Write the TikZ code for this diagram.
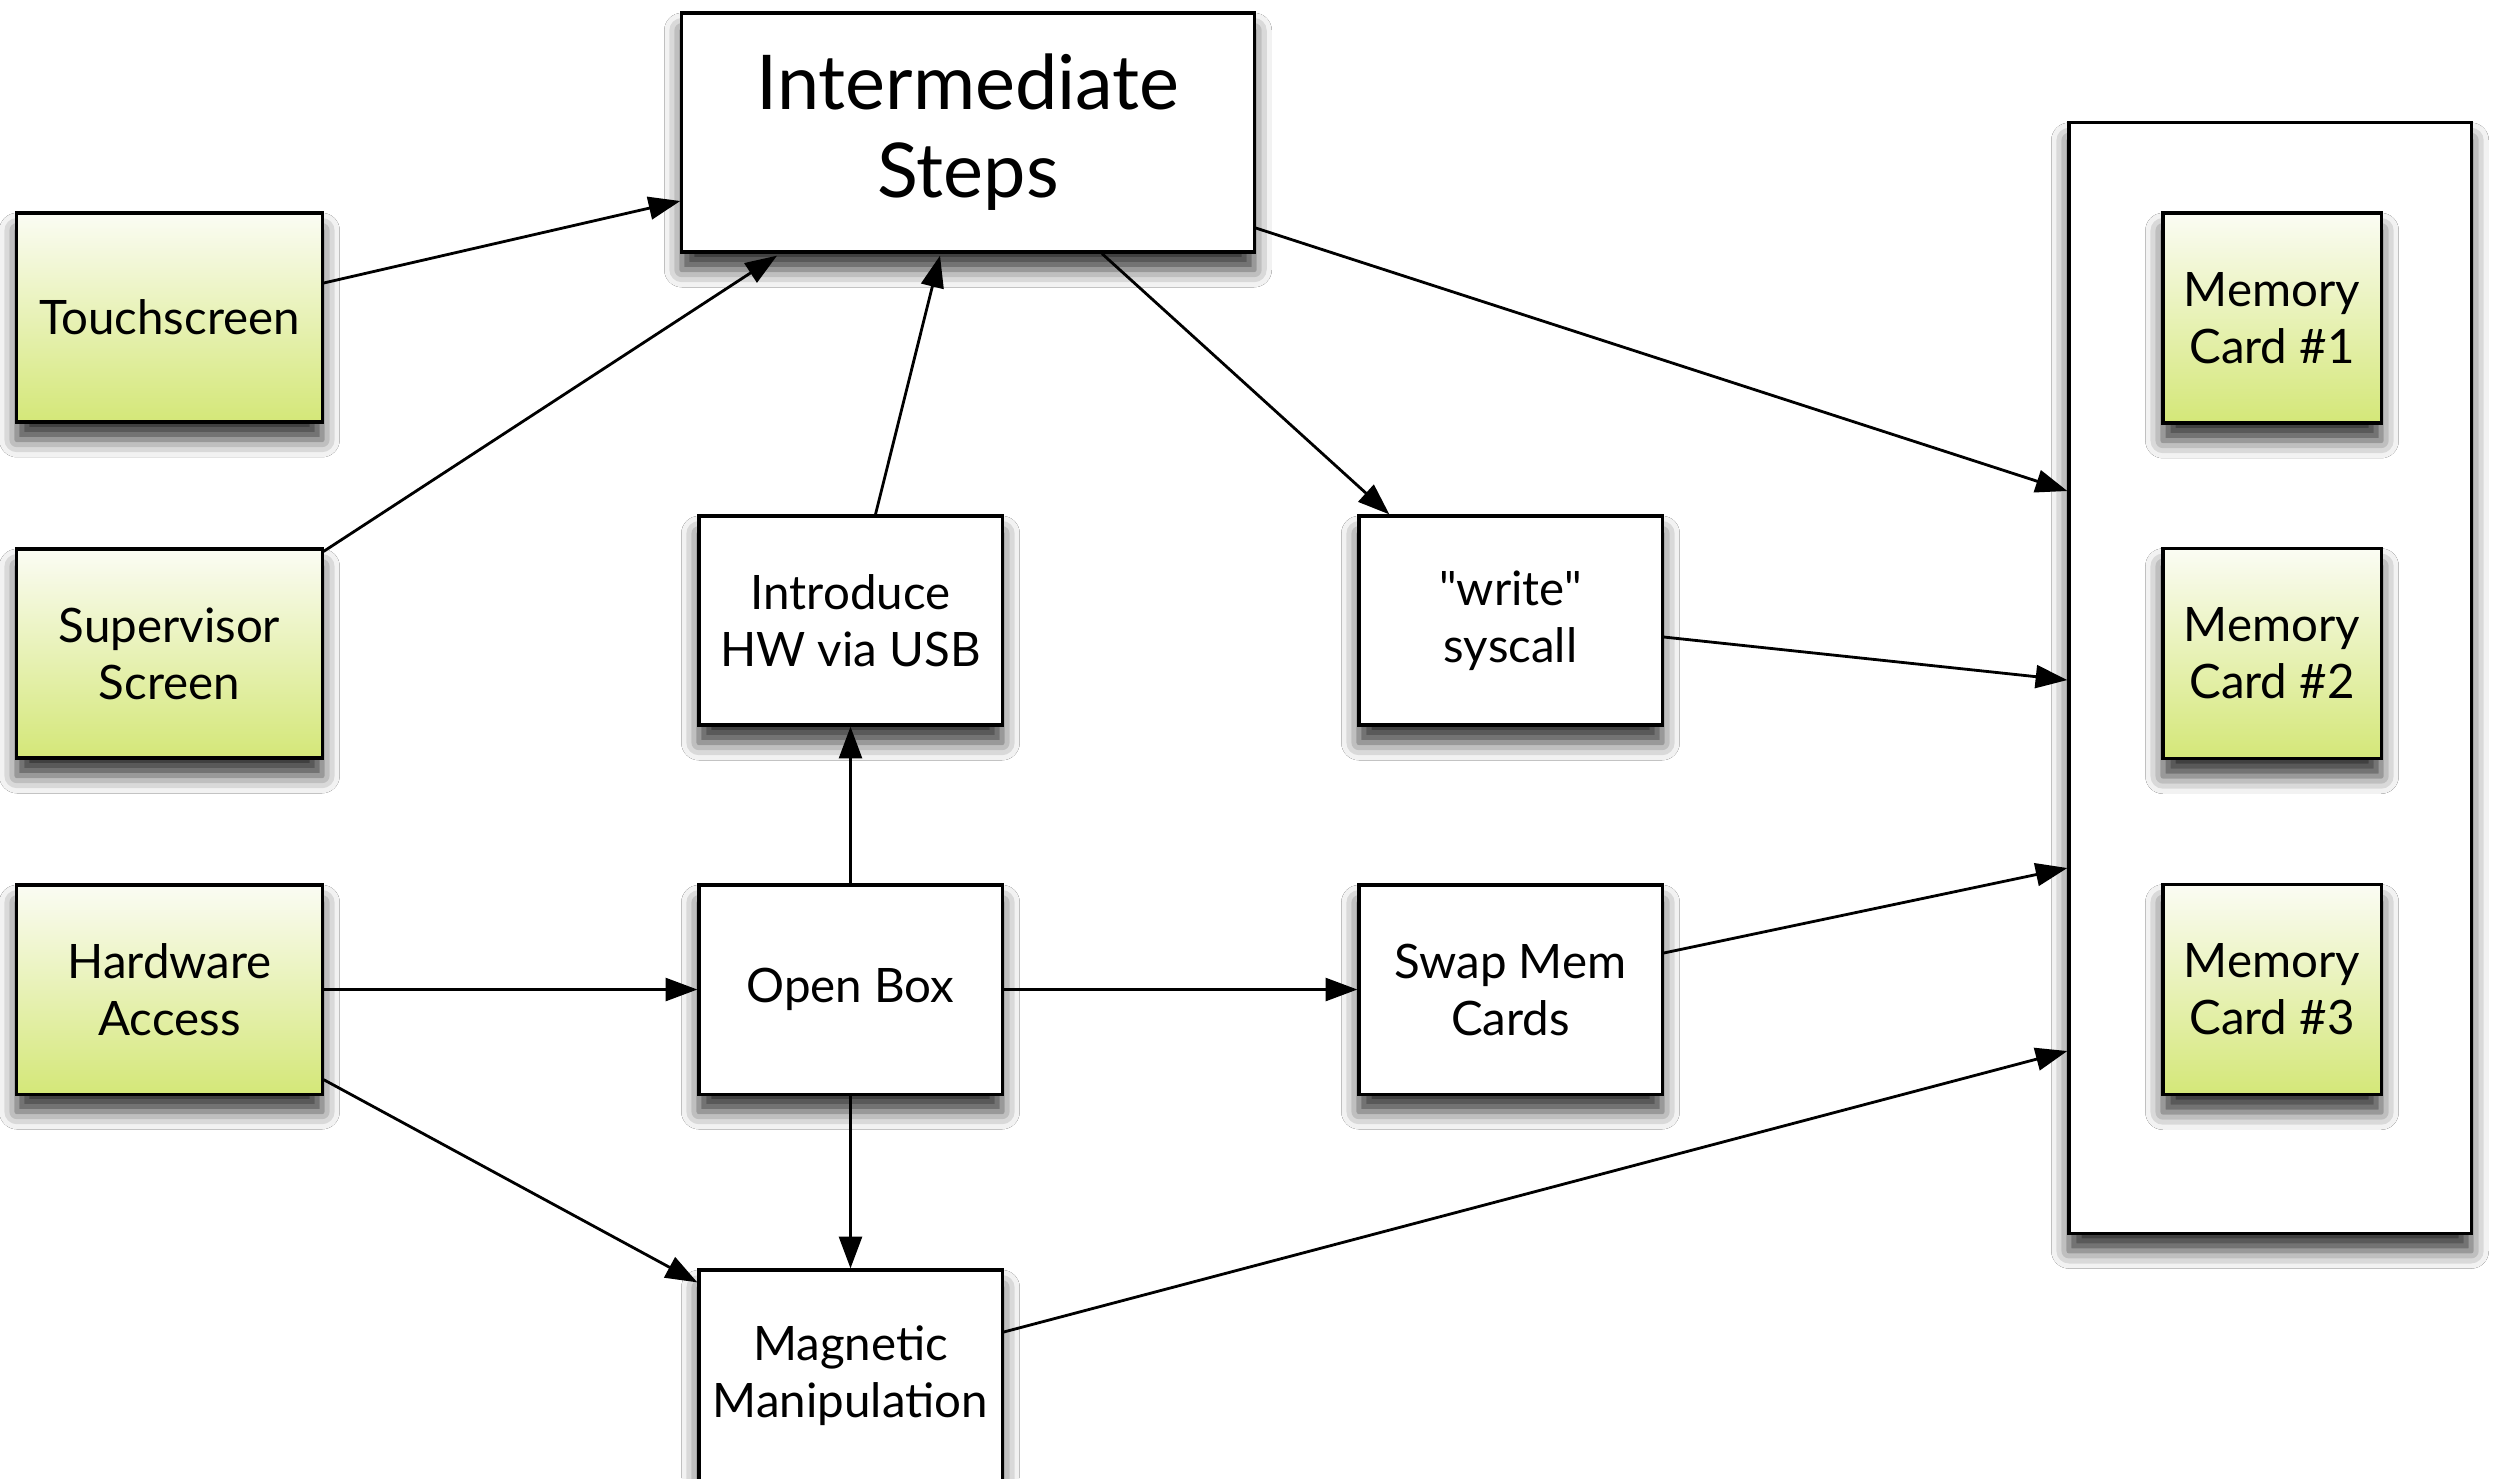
\documentclass[tikz,border=0pt]{standalone}
\usepackage{fontspec}
\setmainfont{Lato}
% same face without TeX ligature mapping, so that " stays a straight quote
\newfontfamily\latoplain{Lato}
\usetikzlibrary{arrows.meta,calc,shadows.blur}

\definecolor{cardtop}{HTML}{FBFCF4}
\definecolor{cardbottom}{HTML}{D4E778}

\tikzset{
  box/.style={draw=black, line width=0.9pt, fill=white, align=center,
    inner sep=0pt, font=\fontsize{13.5}{16.2}\selectfont,
    blur shadow={shadow xshift=0pt, shadow yshift=-5pt,
                 shadow blur radius=5pt, shadow opacity=80}},
  greenbox/.style={box, top color=cardtop, bottom color=cardbottom},
  source/.style={greenbox, minimum width=3.05cm, minimum height=2.09cm},
  stepbox/.style={box, minimum width=3.03cm, minimum height=2.09cm},
  card/.style={greenbox, minimum width=2.18cm, minimum height=2.10cm},
  link/.style={line width=0.8pt, -{Triangle[length=9pt,width=6.5pt]}},
}

\begin{document}
\begin{tikzpicture}[x=0.01cm, y=-0.01cm]
  \useasboundingbox (0,0) rectangle (2498,1478);
  \clip (0,0) rectangle (2498,1478);
  \fill[white] (0,0) rectangle (2498,1478);

  % sources on the left
  \node[source] (ts) at (169.5,317.5) {Touchscreen};
  \node[source] (ss) at (169.5,653.5) {Supervisor\\Screen};
  \node[source] (hw) at (169.5,989.5) {Hardware\\Access};

  % central steps
  \node[box, minimum width=5.72cm, minimum height=2.39cm,
        font=\fontsize{21.5}{25}\selectfont] (is) at (968,132.5) {Intermediate\\Steps};
  \node[stepbox] (intro) at (850.5,620.5) {Introduce\\HW via USB};
  \node[stepbox] (ob) at (850.5,989.5) {Open Box};
  \node[stepbox, minimum height=2.12cm] (mm) at (850.5,1376) {Magnetic\\Manipulation};
  \node[stepbox] (wr) at (1510.5,620.5) {{\latoplain "write"}\\syscall};
  \node[stepbox] (sw) at (1510.5,989.5) {Swap Mem\\Cards};

  % memory card holder
  \node[box, minimum width=4.02cm, minimum height=11.10cm] (cont) at (2270,678) {};
  \node[card] (m1) at (2272,318) {Memory\\Card \#1};
  \node[card] (m2) at (2272,653.5) {Memory\\Card \#2};
  \node[card] (m3) at (2272,989.5) {Memory\\Card \#3};

  % connectors
  \draw[link] ($(ts.east)+(0,-34.5)$) -- ($(is.west)+(0,68.5)$);
  \draw[link] ($(ss.north east)+(0,4)$) -- ($(is.south)+(-191,2)$);
  \draw[link] ($(intro.north)+(25,0)$) -- ($(is.south)+(-28,2)$);
  \draw[link] ($(is.south)+(134,0)$) -- ($(wr.north west)+(32,0)$);
  \draw[link] ($(is.east)+(0,95.5)$) -- ($(cont.west)+(0,-187)$);
  \draw[link] ($(wr.east)+(0,16.5)$) -- ($(cont.west)+(0,2)$);
  \draw[link] ($(sw.east)+(0,-36.5)$) -- ($(cont.west)+(0,190)$);
  \draw[link] ($(mm.east)+(0,-44)$) -- ($(cont.west)+(0,373)$);
  \draw[link] (hw.east) -- (ob.west);
  \draw[link] (ob.east) -- (sw.west);
  \draw[link] (ob.north) -- (intro.south);
  \draw[link] (ob.south) -- (mm.north);
  \draw[link] ($(hw.south east)+(0,-16)$) -- ($(mm.north west)+(0,14)$);
\end{tikzpicture}
\end{document}
